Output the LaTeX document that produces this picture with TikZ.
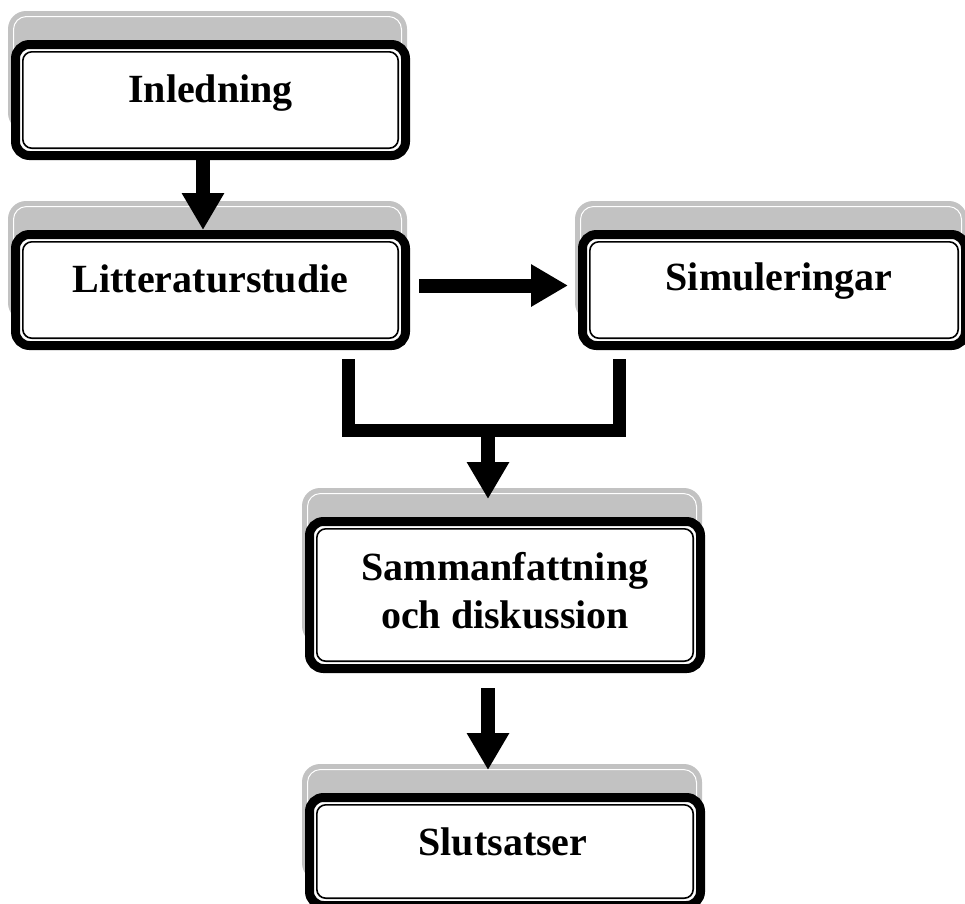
\documentclass[tikz,border=0pt]{standalone}
\usepackage{fontspec}
\setmainfont{Liberation Serif}
\usetikzlibrary{arrows.meta,calc}
\definecolor{shadowgray}{RGB}{194,194,194}
\newcommand\fancybox[1]{%
  \fill[shadowgray, rounded corners=18pt] ([shift={(-3,-29)}]#1.north west) rectangle ([shift={(-3,-29)}]#1.south east);
  \draw[white, line width=1pt, rounded corners=13pt] ([shift={(2.5,-23.5)}]#1.north west) rectangle ([shift={(-8.5,-34.5)}]#1.south east);
  \draw[black, fill=white, line width=9pt, rounded corners=14pt] ([shift={(4.5,4.5)}]#1.north west) rectangle ([shift={(-4.5,-4.5)}]#1.south east);
  \draw[black, line width=1.6pt, rounded corners=9pt] ([shift={(11.8,11.8)}]#1.north west) rectangle ([shift={(-11.8,-11.8)}]#1.south east);
}
\begin{document}
\begin{tikzpicture}[x=1pt,y=-1pt,
  frame/.style={rectangle, draw=none, inner sep=0pt, outer sep=0pt},
  lbl/.style={inner sep=0pt, anchor=base, font=\fontsize{40}{48}\selectfont\bfseries},
  arr/.style={line width=14pt, -{Triangle[width=40pt,length=37pt]}},
  bar/.style={line width=13pt, line join=miter, line cap=butt}]
\useasboundingbox (0,0) rectangle (965,903);
% box frames
\node[frame, minimum width=399pt, minimum height=120pt] (inl) at (210.5,100) {};
\node[frame, minimum width=399pt, minimum height=120pt] (lit) at (210.5,290) {};
\node[frame, minimum width=392pt, minimum height=120pt] (sim) at (774,290) {};
\node[frame, minimum width=400pt, minimum height=156pt] (sam) at (505,595) {};
\node[frame, minimum width=400pt, minimum height=117pt] (slu) at (505,851.5) {};
\fancybox{inl}
\fancybox{lit}
\fancybox{sim}
\fancybox{sam}
\fancybox{slu}
% labels
\node[lbl] (inlt) at ($(inl.north)+(0,62)$) {Inledning};
\node[lbl] (litt) at ($(lit.north)+(0,62)$) {Litteraturstudie};
\node[lbl] (simt) at ($(sim.north)+(5,60)$) {Simuleringar};
\node[lbl] (samt) at ($(sam.north)+(0,63)$) {\begin{tabular}[t]{@{}c@{}}Sammanfattning\\och diskussion\end{tabular}};
\node[lbl] (slut) at ($(slu.north)+(-2,62)$) {Slutsatser};
% connectors
\draw[arr] ([xshift=-7.5pt]inl.south) -- ([xshift=-7.5pt]lit.north);
\draw[arr] ([shift={(9,-4.5)}]lit.east) -- ([shift={(-10,-4.5)}]sim.west);
\coordinate (mL) at ($(lit.south east)+(-62,9)$);
\coordinate (mR) at ($(sim.south west)+(41,9)$);
\coordinate (mJ) at ($(sam.north)+(-17,-87)$);
\draw[bar] (mL) -- (mL |- mJ) -- (mR |- mJ) -- (mR);
\draw[arr] ([yshift=-6pt]mJ) -- ([shift={(-17,-18)}]sam.north);
\draw[arr] ([shift={(-17,15)}]sam.south) -- ([shift={(-17,-23)}]slu.north);
\end{tikzpicture}
\end{document}
